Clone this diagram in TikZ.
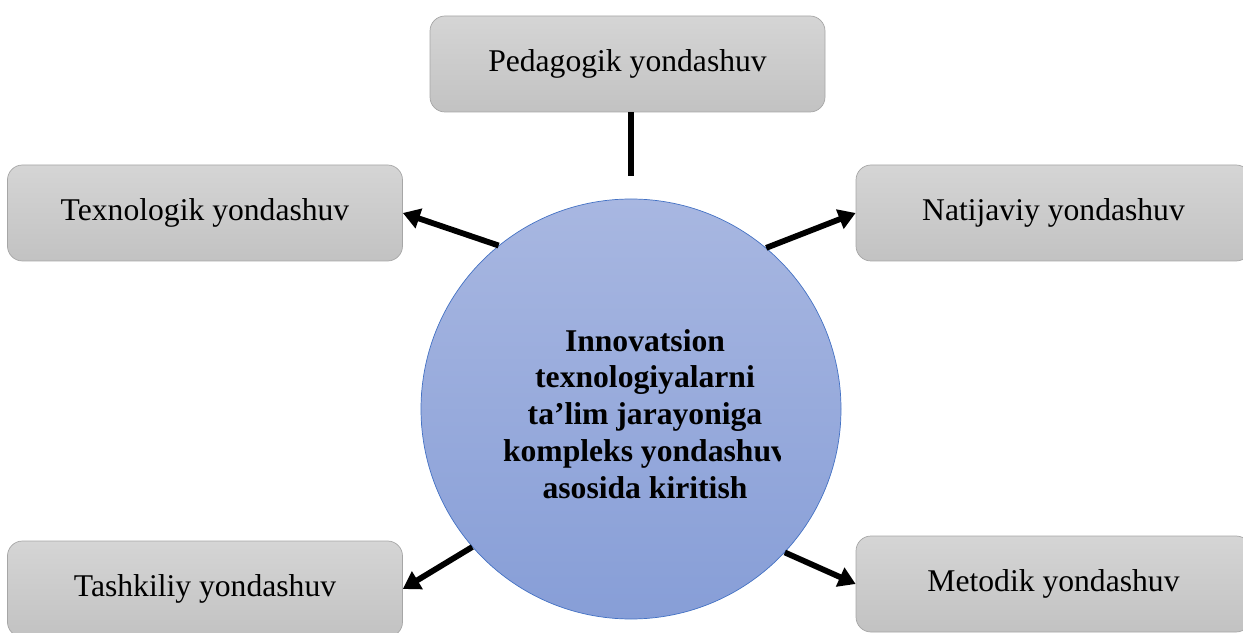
\documentclass[tikz,border=0pt]{standalone}
\usepackage{fontspec}
\setmainfont{Liberation Serif}
\usepackage{xcolor}
\usetikzlibrary{arrows.meta}

\definecolor{boxtop}{HTML}{D5D5D5}
\definecolor{boxbot}{HTML}{C2C2C2}
\definecolor{boxline}{HTML}{A6A6A6}
\definecolor{circtop}{HTML}{A8B7E1}
\definecolor{circbot}{HTML}{879ED7}
\definecolor{circline}{HTML}{4472C4}

\tikzset{
  approach/.style={draw=boxline, rounded corners=0.3cm, top color=boxtop, bottom color=boxbot,
    minimum width=7.9cm, minimum height=1.92cm, font=\fontsize{18}{21}\selectfont},
  link/.style={line width=3.3pt, -{Triangle[length=3.4mm,width=4mm]}}
}

\begin{document}
\begin{tikzpicture}
\useasboundingbox (0,0) rectangle (24.86,12.64);
\clip (0,0) rectangle (24.86,12.64);

%centre circle
\node[circle, draw=circline, top color=circtop, bottom color=circbot, minimum size=8.4cm, inner sep=0pt] (core) at (12.62,4.46) {};

\begin{scope}
\clip (9,0) rectangle (15.6,12);
\node[align=center, font=\bfseries\fontsize{18}{21}\selectfont] (coretext) at (12.90,4.36)
  {Innovatsion\\ texnologiyalarni\\ ta’lim jarayoniga\\ kompleks yondashuv\\ asosida kiritish};
\end{scope}

%approach boxes
\node[approach] (ped) at (12.55,11.36) {\raisebox{-2pt}{Pedagogik yondashuv}};
\node[approach] (tex) at (4.10,8.38) {\raisebox{-2pt}{Texnologik yondashuv}};
\node[approach] (nat) at (21.07,8.38) {\raisebox{-2pt}{Natijaviy yondashuv}};
\node[approach] (tas) at (4.10,0.86) {\raisebox{-2pt}{Tashkiliy yondashuv}};
\node[approach] (met) at (21.07,0.96) {\raisebox{-2pt}{Metodik yondashuv}};

%top line
\coordinate (pedend) at (12.62,9.12);
\draw[line width=3.3pt] (pedend |- ped.south) -- (pedend);

%arrows
\draw[link] (core.129.5) -- (tex.east);
\draw[link] (core.50.5) -- (nat.west);
\draw[link] (core.221.9) -- (tas.east);
\draw[link] (core.317.7) -- (met.west);

\end{tikzpicture}
\end{document}
